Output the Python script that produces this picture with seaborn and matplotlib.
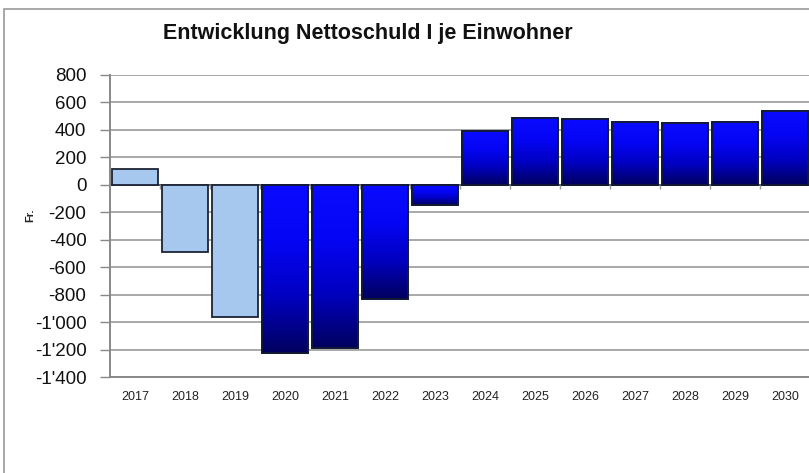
import numpy as np
import pandas as pd
import matplotlib
matplotlib.use("Agg")
import matplotlib.pyplot as plt
import seaborn as sns
from matplotlib.ticker import FuncFormatter, MultipleLocator
from matplotlib.colors import LinearSegmentedColormap
from matplotlib.patches import Rectangle

years = ["2017", "2018", "2019", "2020", "2021", "2022", "2023",
         "2024", "2025", "2026", "2027", "2028", "2029", "2030"]
values = [115, -490, -965, -1222, -1190, -835, -145,
          391, 490, 476, 460, 450, 458, 541]
kind = ["ist", "ist", "ist", "plan", "plan", "plan", "plan",
        "plan", "plan", "plan", "plan", "plan", "plan", "plan"]

title = "Entwicklung Nettoschuld I je Einwohner"
ylabel = "Fr."

sns.set_theme(style="white")
plt.rcParams["font.family"] = ["Liberation Sans", "DejaVu Sans"]

df = pd.DataFrame({"year": years, "value": values, "kind": kind})

fig = plt.figure(figsize=(8.09, 4.73), dpi=100)
ax = fig.add_axes([110 / 809, 1 - 377 / 473, 700 / 809, 302 / 473])

light = "#a6c8ef"
dark = "#0000e6"
sns.barplot(data=df, x="year", y="value", hue="kind",
            palette={"ist": light, "plan": dark}, width=0.92,
            legend=False, ax=ax, zorder=3, saturation=1)

cmap = LinearSegmentedColormap.from_list("g", ["#00005e", "#0000c0", "#0505f5", "#0a0aff"])
grad = np.linspace(0, 1, 256).reshape(-1, 1)
grad = np.hstack([grad, grad])
for bar in ax.patches:
    bar.set_edgecolor("#1b2436")
    bar.set_linewidth(1.3)
    fc = bar.get_facecolor()
    if fc[2] > 0.8 and fc[0] < 0.2:
        x0, y0 = bar.get_x(), bar.get_y()
        w, h = bar.get_width(), bar.get_height()
        ylo, yhi = min(y0, y0 + h), max(y0, y0 + h)
        im = ax.imshow(grad, cmap=cmap, aspect="auto", origin="lower",
                       extent=[x0, x0 + w, ylo, yhi], zorder=3.5,
                       interpolation="bilinear")
        im.set_clip_path(bar)
        edge = Rectangle((x0, y0), w, h, fill=False, edgecolor="#111a33",
                         linewidth=1.3, zorder=4)
        ax.add_patch(edge)

ax.set_xlim(-0.5, 13.5)
ax.set_ylim(-1400, 800)
ax.yaxis.set_major_locator(MultipleLocator(200))
ax.yaxis.set_major_formatter(FuncFormatter(lambda v, p: f"{int(v):,}".replace(",", "'")))
ax.grid(axis="y", color="#a8a8a8", linewidth=1.4, zorder=0)
ax.set_axisbelow(True)
ax.axhline(0, color="#555555", linewidth=1.2, zorder=2)
ax.vlines(np.arange(0.5, 13.5, 1.0), -30, 0, color="#999999", linewidth=1, zorder=2)

for s in ["top", "right"]:
    ax.spines[s].set_visible(False)
for s in ["left", "bottom"]:
    ax.spines[s].set_color("#888888")
    ax.spines[s].set_linewidth(1.4)

ax.tick_params(axis="y", which="major", left=True, length=7, width=1, color="#888888",
               pad=10, labelsize=13.5, labelcolor="#111111")
ax.tick_params(axis="x", bottom=False, labelsize=9, pad=4, labelcolor="#222222")
ax.set_xlabel("")
ax.set_ylabel("")

fig.text(368 / 809, 1 - 33 / 473, title, ha="center", va="center",
         fontsize=15.5, fontweight="bold", color="#111111")
fig.text(30 / 809, 1 - 215 / 473, ylabel, ha="center", va="center",
         rotation=90, fontsize=8, fontweight="bold", color="#222222")

fig.add_artist(Rectangle((4 / 809, -0.05), 1.2, 1 - 9 / 473 + 0.05,
                         transform=fig.transFigure, fill=False,
                         edgecolor="#999999", linewidth=1.2))

fig.savefig("out.png", dpi=100)
